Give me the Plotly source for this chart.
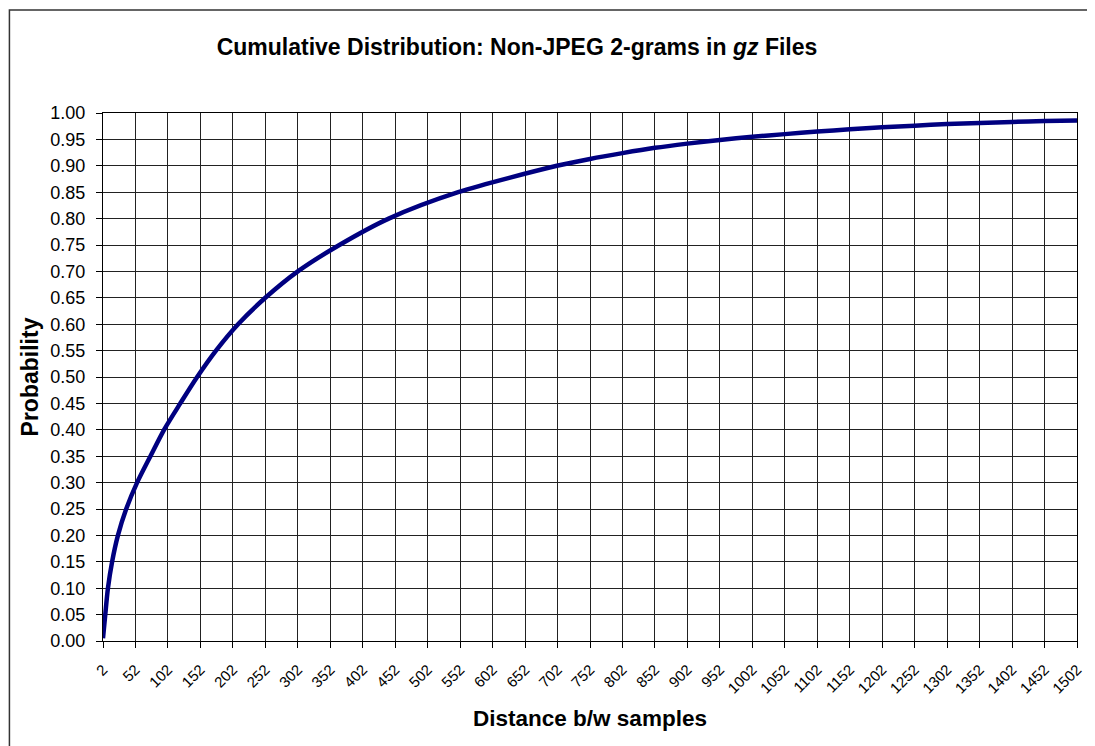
import plotly.graph_objects as go

# Cumulative probability vs distance between samples
distance = [2, 5.5, 9.6, 16, 25, 37.7, 54.5, 75, 96, 121, 147, 176, 210, 252, 302, 366,
            442, 549, 701, 752, 802, 852, 902, 952, 1002, 1052, 1102, 1152, 1202, 1252,
            1302, 1352, 1402, 1452, 1502]
probability = [0.005, 0.05, 0.10, 0.15, 0.20, 0.25, 0.30, 0.35, 0.40, 0.45, 0.50, 0.55,
               0.60, 0.65, 0.70, 0.75, 0.80, 0.85, 0.90, 0.913, 0.924, 0.934, 0.942,
               0.949, 0.955, 0.960, 0.965, 0.969, 0.973, 0.976, 0.979, 0.981, 0.983,
               0.985, 0.986]

x_ticks = list(range(2, 1503, 50))
y_ticks = [round(i * 0.05, 2) for i in range(21)]

title_text = "<b>Cumulative Distribution: Non-JPEG 2-grams in <i>gz</i> Files</b>"
x_title = "<b>Distance b/w samples</b>"
y_title = "<b>Probability</b>"

FONT = "Liberation Sans, Arial, sans-serif"

# page has an 8px body margin; figure sized so the chart lands on the same pixels
W, H = 1087, 738
L, T, PW, PH = 95, 105, 981, 528

fig = go.Figure()
fig.add_trace(go.Scatter(
    x=distance, y=probability, mode="lines",
    line=dict(color="#000080", width=4.5, shape="spline", smoothing=0.8),
    hoverinfo="x+y", showlegend=False,
))

fig.update_layout(
    width=W, height=H,
    paper_bgcolor="white", plot_bgcolor="white",
    margin=dict(l=L, r=W - L - PW, t=T, b=H - T - PH),
    font=dict(family=FONT, color="black", size=17),
    title=dict(text=title_text, font=dict(size=23),
               x=509 / W, xref="container", xanchor="center",
               y=1 - 39 / H, yref="container", yanchor="middle"),
)

fig.update_xaxes(
    range=[2, 1502], tickmode="array", tickvals=x_ticks,
    ticktext=[str(v) for v in x_ticks], tickangle=-45,
    tickfont=dict(size=15), ticks="outside", ticklen=6, tickcolor="black",
    ticklabelstandoff=7,
    showgrid=True, gridcolor="#222222", gridwidth=1,
    showline=True, linecolor="black", linewidth=1, mirror=True,
    zeroline=False,
    title=dict(text=x_title, font=dict(size=22.5), standoff=14),
)
fig.update_yaxes(
    range=[0, 1], tickmode="array", tickvals=y_ticks,
    ticktext=[f"{v:.2f}" for v in y_ticks],
    tickfont=dict(size=18), ticks="outside", ticklen=6, tickcolor="black",
    ticklabelstandoff=7,
    showgrid=True, gridcolor="#222222", gridwidth=1,
    showline=True, linecolor="black", linewidth=1, mirror=True,
    zeroline=False,
    title=dict(text=y_title, font=dict(size=23), standoff=5),
)

# Outer chart border (right and bottom edges fall outside the visible window)
fig.add_shape(type="rect", xref="paper", yref="paper",
              x0=(0.75 - L) / PW, x1=(1100 - L) / PW,
              y0=(T + PH - 760) / PH, y1=(T + PH - 2) / PH,
              line=dict(color="#333333", width=1.5), fillcolor="rgba(0,0,0,0)",
              layer="below")

fig.write_html("out.html")
